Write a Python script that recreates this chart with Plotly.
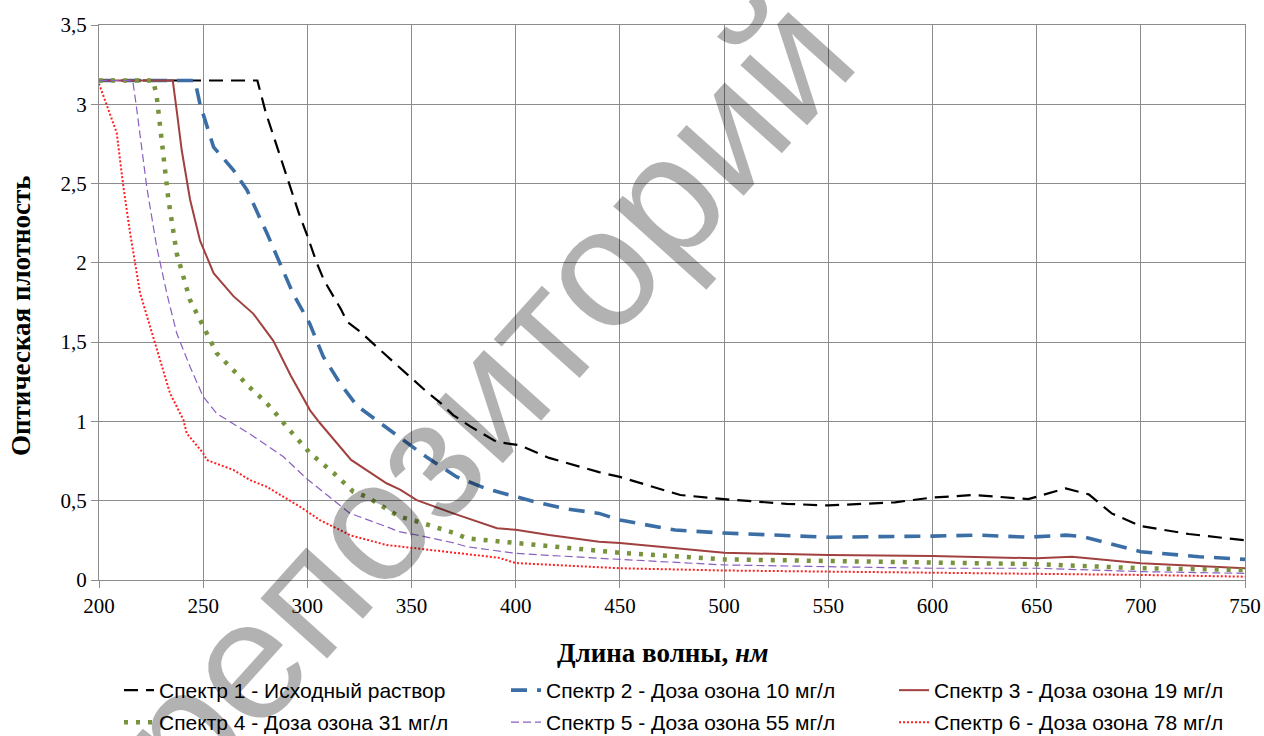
import plotly.graph_objects as go

# ---- data ----
x1 = [200, 276, 280, 288, 296, 300, 304.5, 308, 316, 319, 325, 335, 346, 357, 364, 370, 378, 391, 402, 416, 440, 450, 479, 500, 530, 550, 582, 600, 620, 646, 664, 675, 686, 700, 723, 750]
y1 = [3.15, 3.15, 2.95, 2.63, 2.31, 2.17, 2.0, 1.89, 1.71, 1.63, 1.57, 1.45, 1.32, 1.19, 1.115, 1.04, 0.97, 0.87, 0.85, 0.77, 0.68, 0.65, 0.536, 0.51, 0.48, 0.47, 0.49, 0.52, 0.536, 0.51, 0.578, 0.54, 0.42, 0.34, 0.29, 0.25]

x2 = [200, 246, 248.5, 255, 264.5, 271, 280.5, 293, 301, 307.6, 315.7, 323.7, 335, 346, 357, 371.7, 385, 397, 410, 423.6, 440, 450, 476.5, 500, 550, 600, 622, 646, 664, 672, 700, 728, 750]
y2 = [3.15, 3.15, 3.0, 2.73, 2.585, 2.46, 2.19, 1.81, 1.62, 1.41, 1.24, 1.10, 0.99, 0.883, 0.777, 0.65, 0.58, 0.536, 0.49, 0.45, 0.42, 0.378, 0.315, 0.296, 0.27, 0.277, 0.283, 0.27, 0.283, 0.274, 0.178, 0.147, 0.13]

x3 = [200, 235.4, 237.3, 239.7, 243.7, 248.5, 255, 264.5, 274, 283.6, 292, 301.3, 306, 321, 338, 344.5, 352.5, 370, 391, 400, 416, 440, 450, 500, 550, 600, 650, 667, 700, 750]
y3 = [3.15, 3.15, 2.96, 2.71, 2.40, 2.14, 1.935, 1.79, 1.68, 1.51, 1.29, 1.07, 0.99, 0.757, 0.61, 0.57, 0.504, 0.42, 0.326, 0.317, 0.284, 0.242, 0.233, 0.172, 0.157, 0.151, 0.137, 0.147, 0.105, 0.074]

x4 = [200, 226, 227.7, 230.9, 233.3, 237.3, 243.7, 248.5, 256.5, 267.7, 271, 279, 283.6, 290, 298, 301.3, 313, 322, 328.5, 338, 344, 352.5, 370.6, 376.5, 400, 440, 450, 500, 550, 600, 650, 700, 750]
y4 = [3.15, 3.15, 3.05, 2.69, 2.40, 2.06, 1.765, 1.64, 1.43, 1.28, 1.23, 1.135, 1.07, 0.967, 0.851, 0.80, 0.67, 0.557, 0.525, 0.452, 0.40, 0.37, 0.296, 0.263, 0.233, 0.189, 0.172, 0.13, 0.12, 0.11, 0.10, 0.074, 0.063]

x5 = [200, 216.2, 218, 222.9, 227.7, 232.5, 237.3, 243.7, 250, 256.5, 272.5, 288.5, 299.6, 312.4, 320.5, 338, 344, 352.5, 370.6, 376.5, 400, 440, 450, 500, 550, 600, 650, 700, 750]
y5 = [3.15, 3.15, 2.98, 2.48, 2.10, 1.81, 1.556, 1.345, 1.156, 1.05, 0.92, 0.777, 0.64, 0.504, 0.42, 0.336, 0.305, 0.284, 0.233, 0.21, 0.168, 0.137, 0.13, 0.095, 0.084, 0.074, 0.074, 0.053, 0.042]

x6 = [200, 203.7, 208.5, 211.7, 214.9, 219.7, 227.7, 234.1, 240.5, 242.1, 250, 251.7, 264.5, 272.5, 280.5, 293.2, 296.5, 306, 321, 338, 352.5, 385, 392, 400, 440, 450, 500, 550, 600, 650, 700, 750]
y6 = [3.13, 3.0, 2.82, 2.48, 2.19, 1.81, 1.45, 1.177, 1.01, 0.925, 0.80, 0.757, 0.694, 0.63, 0.588, 0.484, 0.462, 0.378, 0.28, 0.221, 0.20, 0.15, 0.14, 0.107, 0.084, 0.074, 0.06, 0.053, 0.048, 0.042, 0.032, 0.021]

names = [
    "Спектр 1 - Исходный раствор",
    "Спектр 2 - Доза озона 10 мг/л",
    "Спектр 3 - Доза озона 19 мг/л",
    "Спектр 4 - Доза озона 31 мг/л",
    "Спектр 5 - Доза озона 55 мг/л",
    "Спектр 6 - Доза озона 78 мг/л",
]

x_ticks = [200, 250, 300, 350, 400, 450, 500, 550, 600, 650, 700, 750]
y_ticks = [0, 0.5, 1, 1.5, 2, 2.5, 3, 3.5]

styles = [
    dict(color="#000000", width=2.2, dash="14px,8px"),
    dict(color="#3C6EA6", width=3.6, dash="16px,10px"),
    dict(color="#A0413F", width=2.0, dash="solid"),
    dict(color="#77933C", width=4.5, dash="4px,8px"),
    dict(color="#8A5FC0", width=1.2, dash="8px,4px"),
    dict(color="#FF2020", width=2.0, dash="2px,2px"),
]

legend_ids = ["legend", "legend2", "legend3", "legend4", "legend5", "legend6"]

fig = go.Figure()
for xs, ys, nm, st, lg in zip([x1, x2, x3, x4, x5, x6], [y1, y2, y3, y4, y5, y6], names, styles, legend_ids):
    fig.add_trace(go.Scatter(x=xs, y=ys, mode="lines", name=nm, line=st, legend=lg))

grid = "#8C8C8C"
L, R, T, B = 99, 19, 25, 156
W, H = 1264, 736
pw, ph = W - L - R, H - T - B


def px2paper(px, py):
    return (px - L) / pw, (H - B - py) / ph


legend_pos = [(119, 670), (506, 670), (894, 670), (119, 702), (506, 702), (894, 702)]
layout_legends = {}
for lg, (px, py) in zip(legend_ids, legend_pos):
    lx, ly = px2paper(px, py)
    layout_legends[lg] = dict(
        x=lx, y=ly, xanchor="left", yanchor="top",
        font=dict(family="Liberation Sans", size=21, color="#000000"),
        bgcolor="rgba(0,0,0,0)", borderwidth=0,
    )

fig.update_layout(
    width=W, height=H,
    margin=dict(l=L, r=R, t=T, b=B, autoexpand=False),
    paper_bgcolor="white", plot_bgcolor="white",
    separators=", ",
    font=dict(family="Liberation Serif", size=21, color="#000000"),
    showlegend=True,
    xaxis=dict(
        range=[200, 750], tickvals=x_ticks, ticktext=[str(v) for v in x_ticks],
        showgrid=True, gridcolor=grid, gridwidth=1,
        showline=True, linecolor=grid, mirror=True, linewidth=1,
        ticks="outside", ticklen=7, tickcolor=grid,
        tickfont=dict(family="Liberation Serif", size=21), zeroline=False,
    ),
    yaxis=dict(
        range=[0, 3.5], tickvals=y_ticks,
        showgrid=True, gridcolor=grid, gridwidth=1,
        showline=True, linecolor=grid, mirror=True, linewidth=1,
        ticks="outside", ticklen=7, tickcolor=grid,
        tickfont=dict(family="Liberation Serif", size=21), zeroline=False,
    ),
    **layout_legends,
)

ytx, yty = px2paper(21, 316)
fig.add_annotation(
    text="<b>Оптическая плотность</b>", xref="paper", yref="paper",
    x=ytx, y=yty, xanchor="center", yanchor="middle", textangle=-90,
    showarrow=False, font=dict(family="Liberation Serif", size=27, color="#000000"),
)
xtx, xty = px2paper(662, 653)
fig.add_annotation(
    text="<b>Длина волны, <i>нм</i></b>", xref="paper", yref="paper",
    x=xtx, y=xty, xanchor="center", yanchor="middle",
    showarrow=False, font=dict(family="Liberation Serif", size=27, color="#000000"),
)
# repository watermark
wx, wy = px2paper(484, 396)
fig.add_annotation(
    text="репозиторий", xref="paper", yref="paper",
    x=wx, y=wy, xanchor="center", yanchor="middle", textangle=-48,
    showarrow=False, font=dict(family="Liberation Sans", size=170, color="rgba(0,0,0,0.30)"),
)

fig.write_html("out.html")
